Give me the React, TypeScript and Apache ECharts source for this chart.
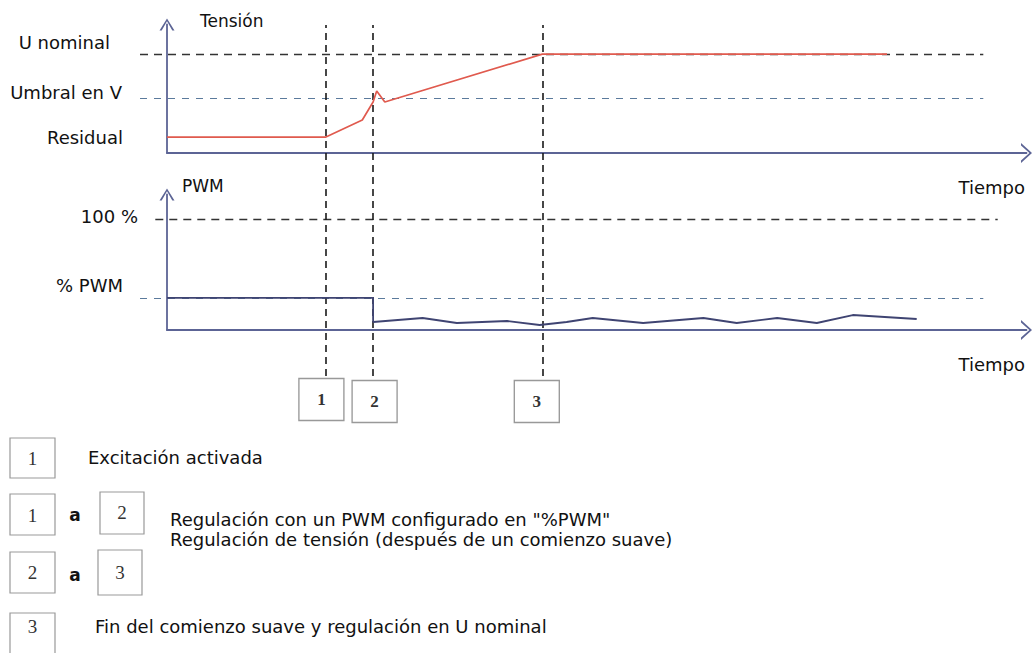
import React, { useEffect, useRef } from "react";
import * as echarts from "echarts";

// ---------- data ----------
const eventLabels = ["1", "2", "3"];
const eventTimes = [17.6, 22.9, 41.7];

const voltageTickNames = ["Residual", "Umbral en V", "U nominal"];
const voltageTickValues = [16, 55, 100];
const voltageTime = [0, 17.6, 21.7, 22.9, 23.3, 24.2, 41.7, 80];
const voltageValues = [16, 16, 33.4, 51.6, 62.8, 51.6, 100, 100];

const pwmTickNames = ["% PWM", "100 %"];
const pwmTickValues = [29, 100];
const pwmTime = [0, 22.9, 22.9, 28.4, 32.2, 37.8, 41.4, 44.4, 47.3, 52.9, 59.6, 63.3, 67.8, 72.2, 76.2, 83.3];
const pwmValues = [29, 29, 7.2, 10.8, 6.3, 8.1, 4.5, 7.2, 10.8, 6.3, 10.8, 6.3, 10.8, 6.3, 13.5, 9.9];

// dashed reference levels: value, start time, end time
const voltageRefValues = [100, 55];
const voltageRefStart = [-3, -3];
const voltageRefEnd = [90.7, 90.7];
const pwmRefValues = [100, 29];
const pwmRefStart = [-1.3, -3];
const pwmRefEnd = [92.3, 90.7];

const legendTexts = [
  "Excitación activada",
  'Regulación con un PWM configurado en "%PWM"',
  "Regulación de tensión (después de un comienzo suave)",
  "Fin del comienzo suave y regulación en U nominal",
];

// ---------- layout / style ----------
const FONT = '"DejaVu Sans", "Liberation Sans", sans-serif';
const SERIF = '"Liberation Serif", "DejaVu Serif", serif';
const TXT = "#111";
const AXIS = "#5c6495";
const PX = 9;
const X0 = 167;
const TMAX = 95.5;
const TREF = -3;
const ARROW_X = "path://M0,11 L10,0 L20,11 L17.6,11 L10,2.6 L2.4,11 Z";
const ARROW_Y = "path://M0,12 L7.5,0 L15,12 L12.8,12 L7.5,2.8 L2.2,12 Z";

const panels = [
  { top: 24.5, height: 128.5, yMax: 130, name: "Tensión", nameGap: 3.5, namePad: 33, labelMargin: 44 },
  { top: 194.5, height: 135.5, yMax: 122, name: "PWM", nameGap: 8.5, namePad: 15, labelMargin: 29 },
];
// per label nudges [up, left] (px)
const voltageNudge = [[0, 0], [6, 1], [12, 13]];
const pwmNudge = [[12, 15], [2, 0]];
const boxNudge = [[-4, 0], [1.5, 2], [-5.5, 2]];

function refStyle(value: number, nominal: number) {
  return value === nominal
    ? { color: "#333", type: [8, 6], width: 1.4 }
    : { color: "#5b7a9c", type: [7, 7], width: 1.2 };
}

function labelAxis(names: string[], values: number[], nudge: number[][], margin: number) {
  const rich: any = {};
  names.forEach((_, i) => {
    rich["l" + i] = {
      fontFamily: FONT,
      fontSize: 18,
      color: TXT,
      padding: [0, nudge[i][1], nudge[i][0] * 2, 0],
    };
  });
  return {
    show: true,
    customValues: values,
    margin,
    formatter: (v: number) => {
      const i = values.indexOf(v);
      return i < 0 ? "" : `{l${i}|${names[i]}}`;
    },
    rich,
  };
}

export default function App() {
  const ref = useRef<HTMLDivElement>(null);

  useEffect(() => {
    if (!ref.current) return;
    const chart = echarts.init(ref.current, undefined, { renderer: "svg" });

    const dataW = TMAX * PX;
    const refLeft = X0 + TREF * PX;
    const refW = (TMAX - TREF) * PX;

    const grid: any[] = [];
    const xAxis: any[] = [];
    const yAxis: any[] = [];

    panels.forEach((p, k) => {
      grid.push({ left: X0, width: dataW, top: p.top, height: p.height });
      xAxis.push({
        type: "value", gridIndex: 2 * k, min: 0, max: TMAX,
        axisLine: { show: true, symbol: ["none", ARROW_X], symbolSize: [20, 11], lineStyle: { color: AXIS, width: 1.8 } },
        axisTick: { show: false }, axisLabel: { show: false }, splitLine: { show: false },
        name: "Tiempo", nameLocation: "end", nameGap: -1.5,
        nameTextStyle: { fontFamily: FONT, fontSize: 18, color: TXT, align: "right", verticalAlign: "top", padding: [25, 0, 0, 0] },
      });
      const axisLabel = k === 0
        ? labelAxis(voltageTickNames, voltageTickValues, voltageNudge, p.labelMargin)
        : labelAxis(pwmTickNames, pwmTickValues, pwmNudge, p.labelMargin);
      yAxis.push({
        type: "value", gridIndex: 2 * k, min: 0, max: p.yMax,
        axisLine: { show: true, symbol: ["none", ARROW_Y], symbolSize: [15, 12], lineStyle: { color: AXIS, width: 1.8 } },
        axisTick: { show: false }, splitLine: { show: false },
        axisLabel,
        name: p.name, nameLocation: "end", nameGap: p.nameGap,
        nameTextStyle: { fontFamily: FONT, fontSize: 17, color: TXT, align: "left", verticalAlign: "middle", padding: [0, 0, 0, p.namePad] },
      });
      grid.push({ left: refLeft, width: refW, top: p.top, height: p.height });
      xAxis.push({ type: "value", gridIndex: 2 * k + 1, min: TREF, max: TMAX, show: false });
      yAxis.push({ type: "value", gridIndex: 2 * k + 1, min: 0, max: p.yMax, show: false });
    });

    grid.push({ left: X0, width: dataW, top: 25, height: 351 });
    xAxis.push({ type: "value", gridIndex: 4, min: 0, max: TMAX, show: false });
    yAxis.push({ type: "value", gridIndex: 4, min: 0, max: 1, show: false });
    grid.push({ left: X0, width: dataW, top: 378, height: 43 });
    xAxis.push({ type: "value", gridIndex: 5, min: 0, max: TMAX, show: false });
    yAxis.push({ type: "value", gridIndex: 5, min: 0, max: 1, show: false });

    const refSeries = (axisIdx: number, vals: number[], st: number[], en: number[], nominal: number) => ({
      type: "line", xAxisIndex: axisIdx, yAxisIndex: axisIdx, data: [], silent: true,
      markLine: {
        silent: true, symbol: ["none", "none"], label: { show: false },
        data: vals.map((v, i) => [
          { coord: [st[i], v], lineStyle: refStyle(v, nominal) },
          { coord: [en[i], v] },
        ]),
      },
    });

    const series: any[] = [
      refSeries(1, voltageRefValues, voltageRefStart, voltageRefEnd, 100),
      refSeries(3, pwmRefValues, pwmRefStart, pwmRefEnd, 100),
      {
        type: "line", xAxisIndex: 4, yAxisIndex: 4, data: [], silent: true,
        markLine: {
          silent: true, symbol: ["none", "none"], label: { show: false },
          lineStyle: { color: "#1a1a1a", type: [7, 5], width: 1.6 },
          data: eventTimes.map((t) => ({ xAxis: t })),
        },
      },
      {
        type: "line", xAxisIndex: 0, yAxisIndex: 0, symbol: "none",
        lineStyle: { color: "#e05a4e", width: 1.7 },
        data: voltageTime.map((t, i) => [t, voltageValues[i]]),
        z: 5,
      },
      {
        type: "line", xAxisIndex: 2, yAxisIndex: 2, symbol: "none",
        lineStyle: { color: "#3f4472", width: 1.8 },
        data: pwmTime.map((t, i) => [t, pwmValues[i]]),
        z: 5,
      },
      {
        type: "scatter", xAxisIndex: 5, yAxisIndex: 5, symbol: "rect", symbolSize: [45, 42],
        itemStyle: { color: "#fff", borderColor: "#999", borderWidth: 1.3, opacity: 1 },
        label: { show: true, position: "inside", formatter: "{b}", fontFamily: SERIF, fontSize: 17, fontWeight: "bold", color: "#333" },
        data: eventTimes.map((t, i) => ({ name: eventLabels[i], value: [t, 0.5], symbolOffset: boxNudge[i] })),
        silent: true,
      },
    ];

    const box = (x: number, y: number, w: number, h: number, label: string, cy: number) => [
      { type: "rect", shape: { x, y, width: w, height: h }, style: { fill: "#fff", stroke: "#999", lineWidth: 1.2 } },
      { type: "text", x: x + w / 2, y: cy, style: { text: label, fontFamily: SERIF, fontSize: 19, fill: "#333", align: "center", verticalAlign: "middle" } },
    ];
    const aText = (x: number, y: number) => ({
      type: "text", x, y, style: { text: "a", fontFamily: FONT, fontSize: 17, fontWeight: "bold", fill: TXT, align: "center", verticalAlign: "middle" },
    });
    const lText = (x: number, y: number, text: string) => ({
      type: "text", x, y, style: { text, fontFamily: FONT, fontSize: 18, fill: TXT, align: "left", verticalAlign: "middle" },
    });
    const graphic: any[] = [
      ...box(10, 438, 45, 40, eventLabels[0], 458),
      lText(88, 457, legendTexts[0]),
      ...box(10, 494, 45, 41, eventLabels[0], 515),
      aText(75, 515),
      ...box(100, 492, 44, 42, eventLabels[1], 512),
      lText(170, 519, legendTexts[1]),
      ...box(10, 552, 45, 41, eventLabels[1], 572),
      aText(75, 575),
      ...box(98, 550, 44, 45, eventLabels[2], 572),
      lText(170, 539, legendTexts[2]),
      ...box(10, 613, 45, 42, eventLabels[2], 626),
      lText(95, 626, legendTexts[3]),
    ];

    chart.setOption({
      animation: false,
      backgroundColor: "#fff",
      grid, xAxis, yAxis, series, graphic,
    });
    return () => chart.dispose();
  }, []);

  return <div ref={ref} style={{ position: "absolute", left: 0, top: 0, width: 1035, height: 653, background: "#fff" }} />;
}
